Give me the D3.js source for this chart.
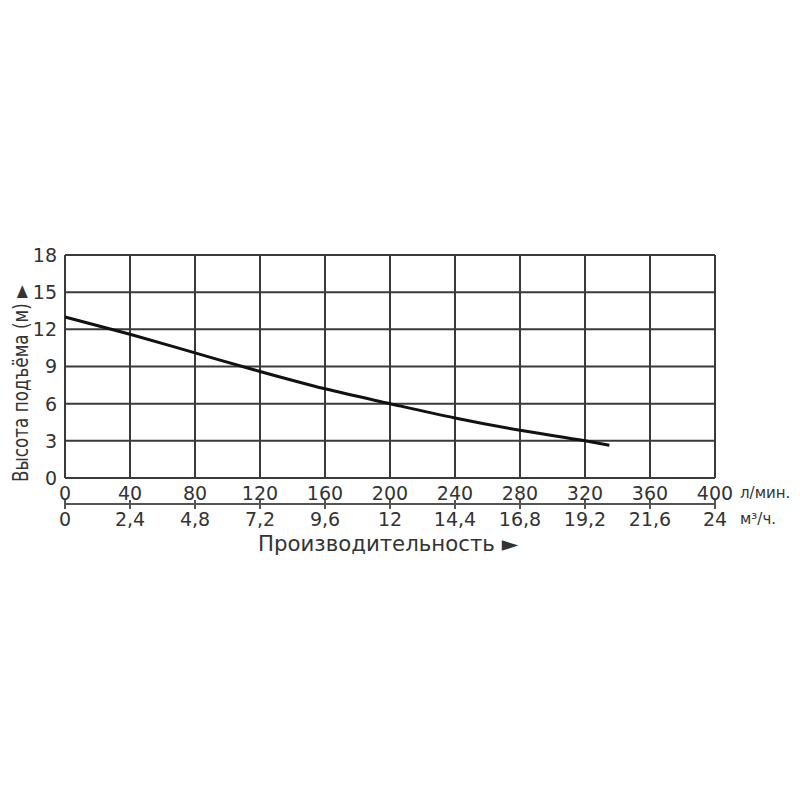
<!DOCTYPE html>
<html><head><meta charset="utf-8">
<script src="https://cdn.jsdelivr.net/npm/d3@7"></script>
<style>body{margin:0;background:#fff}svg{display:block}</style>
</head><body>
<script>
const flowLpm = [0, 40, 80, 120, 160, 200, 240, 280, 320, 335];
const headM = [13.0, 11.6, 10.1, 8.6, 7.2, 6.0, 4.85, 3.85, 3.0, 2.65];
const xTicksLpm = [0, 40, 80, 120, 160, 200, 240, 280, 320, 360, 400];
const xTicksM3h = ["0", "2,4", "4,8", "7,2", "9,6", "12", "14,4", "16,8", "19,2", "21,6", "24"];
const yTicks = [0, 3, 6, 9, 12, 15, 18];

const W = 800, H = 800;
const svg = d3.select("body").append("svg").attr("width", W).attr("height", H);
const font = "DejaVu Sans, Verdana, sans-serif";
const x = d3.scaleLinear().domain([0, 400]).range([65, 715]);
const y = d3.scaleLinear().domain([0, 18]).range([478, 255]);
const grid = "#3a3a3a";

const g = svg.append("g");
g.selectAll(".vg").data(xTicksLpm).join("line")
  .attr("x1", d => x(d)).attr("x2", d => x(d)).attr("y1", y(0)).attr("y2", y(18))
  .attr("stroke", grid).attr("stroke-width", 2);
g.selectAll(".hg").data(yTicks).join("line")
  .attr("x1", x(0)).attr("x2", x(400)).attr("y1", d => y(d)).attr("y2", d => y(d))
  .attr("stroke", grid).attr("stroke-width", 2);

// y tick labels
g.selectAll(".yl").data(yTicks).join("text")
  .attr("x", 57).attr("y", d => y(d)).attr("dy", "0.36em")
  .attr("text-anchor", "end").attr("font-family", font).attr("font-size", 19).attr("fill", "#333")
  .text(d => d);

// top x labels
g.selectAll(".xl").data(xTicksLpm).join("text")
  .attr("x", d => x(d)).attr("y", 500)
  .attr("text-anchor", "middle").attr("font-family", font).attr("font-size", 19).attr("fill", "#333")
  .text(d => d);
svg.append("text").attr("x", 740).attr("y", 498).attr("font-family", font).attr("font-size", 15).attr("fill", "#333").text("л/мин.");

// secondary axis
svg.append("line").attr("x1", x(0)).attr("x2", x(400)).attr("y1", 504).attr("y2", 504).attr("stroke", "#555").attr("stroke-width", 2);
g.selectAll(".t2").data(xTicksLpm).join("line")
  .attr("x1", d => x(d)).attr("x2", d => x(d)).attr("y1", 500).attr("y2", 509)
  .attr("stroke", "#555").attr("stroke-width", 2);
g.selectAll(".xl2").data(xTicksM3h).join("text")
  .attr("x", (d, i) => x(xTicksLpm[i])).attr("y", 526)
  .attr("text-anchor", "middle").attr("font-family", font).attr("font-size", 19).attr("fill", "#333")
  .text(d => d);
svg.append("text").attr("x", 740).attr("y", 524).attr("font-family", font).attr("font-size", 15).attr("fill", "#333").text("м³/ч.");

// curve
const line = d3.line().x((d, i) => x(flowLpm[i])).y(d => y(d)).curve(d3.curveMonotoneX);
svg.append("path").attr("d", line(headM)).attr("fill", "none").attr("stroke", "#111").attr("stroke-width", 3);

// titles
svg.append("text").attr("x", 258).attr("y", 551)
  .attr("font-family", font).attr("font-size", 21).attr("fill", "#333")
  .attr("textLength", 260).attr("lengthAdjust", "spacingAndGlyphs").text("Производительность ►");
svg.append("text").attr("transform", "translate(28,482) rotate(-90)")
  .attr("font-family", font).attr("font-size", 22).attr("fill", "#333")
  .attr("textLength", 197).attr("lengthAdjust", "spacingAndGlyphs").text("Высота подъёма (м) ►");
</script>
</body></html>
